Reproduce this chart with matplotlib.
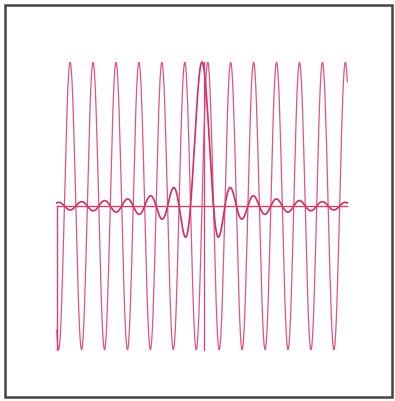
import numpy as np
import matplotlib.pyplot as plt
from matplotlib.patches import Rectangle

# x range of the plotted functions (radians)
x_start = -39.8
x_end = 39.8
n_samples = 420

# extra pen strokes seen on the plot
left_stroke = [0.0, -1.0]    # vertical drop at the left end
mid_stroke_x = 0.5           # vertical stroke through the centre
mid_stroke = [-1.0, 1.0]

x = np.linspace(x_start, x_end, n_samples)
wave = np.sin(x)
sinc = np.sinc(x / np.pi)  # sin(x)/x

fig = plt.figure(figsize=(3.95, 4.01), dpi=100)
fig.patch.set_facecolor("white")

# frame around the sheet
fig.patches.append(Rectangle((5 / 395, 4 / 401), 387 / 395, 392 / 401,
                             transform=fig.transFigure, fill=False,
                             edgecolor="#444444", linewidth=1.8))

ax = fig.add_axes([56.7 / 395, (401 - 350) / 401, 290.6 / 395, 288 / 401])
ax.set_xlim(x_start, x_end)
ax.set_ylim(-1, 1)
ax.axis("off")

pen = dict(clip_on=False, solid_joinstyle="miter")
ax.plot(x, wave, color="#de5486", linewidth=0.9, **pen)
ax.plot(x, sinc, color="#cc3064", linewidth=1.2, **pen)
ax.plot([x_start, x_end], [0, 0], color="#d8426f", linewidth=1.0, **pen)
ax.plot([x_start, x_start], left_stroke, color="#d8426f", linewidth=1.0, **pen)
ax.plot([mid_stroke_x, mid_stroke_x], mid_stroke, color="#d8426f", linewidth=0.9, **pen)

fig.savefig("out.png", dpi=100)
